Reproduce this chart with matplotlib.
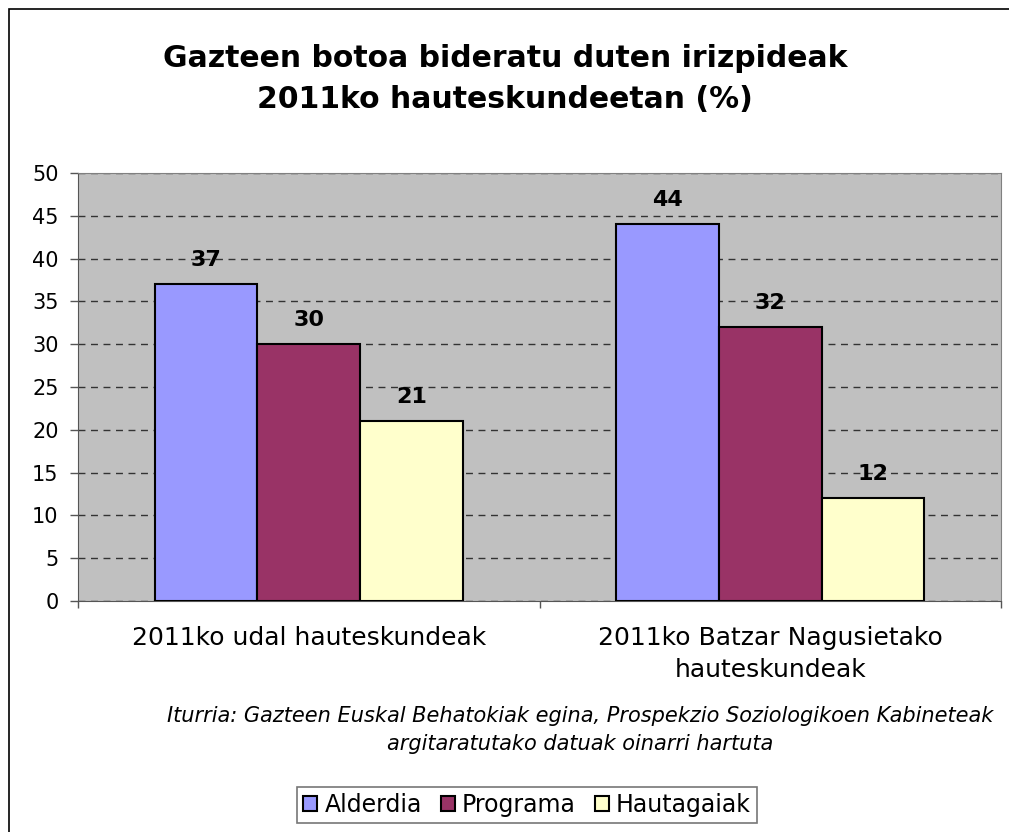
import matplotlib
matplotlib.use("Agg")
import matplotlib.pyplot as plt
import numpy as np

categories = ["2011ko udal hauteskundeak", "2011ko Batzar Nagusietako\nhauteskundeak"]
series = ["Alderdia", "Programa", "Hautagaiak"]
alderdia = [37, 44]
programa = [30, 32]
hautagaiak = [21, 12]
values = [alderdia, programa, hautagaiak]
colors = ["#9999FF", "#993366", "#FFFFCC"]

W, H = 1009, 832
fig = plt.figure(figsize=(W / 100, H / 100), dpi=100)

# outer chart border
fig.add_artist(plt.Rectangle((9 / W, -0.01), 1.05, 1 - 9 / H + 0.01,
                             transform=fig.transFigure, fill=False,
                             edgecolor="#000000", lw=1.2))

ax = fig.add_axes([78 / W, 1 - 601 / H, (1001 - 78) / W, (601 - 173) / H])
ax.set_facecolor("#C0C0C0")

x = np.arange(len(categories))
bw = 1 / 4.5
for i, (s, v, c) in enumerate(zip(series, values, colors)):
    pos = x + (i - 1) * bw
    ax.bar(pos, v, width=bw, color=c, edgecolor="black", lw=1.5, label=s, zorder=3)
    for p, val in zip(pos, v):
        ax.text(p, val + 1.7, str(val), ha="center", va="bottom",
                fontsize=16, fontweight="bold", zorder=4)

ax.set_xlim(-0.5, 1.5)
ax.set_ylim(0, 50)
ax.set_yticks(range(0, 51, 5))
ax.yaxis.grid(True, linestyle=(0, (5, 4)), color="#333333", lw=1.0, zorder=1)
ax.set_axisbelow(True)
ax.set_xticks([-0.5, 0.5, 1.5])
ax.set_xticklabels([])
ax.tick_params(axis="y", labelsize=15, length=6, width=1, color="#555555", pad=8)
ax.tick_params(axis="x", length=5, width=1, color="#555555", direction="out")
for sp in ["top", "right"]:
    ax.spines[sp].set_color("#808080")
for sp in ["left", "bottom"]:
    ax.spines[sp].set_color("#555555")

for xi, lab in zip(x, categories):
    ax.text(xi, -2.9, lab, ha="center", va="top", fontsize=18,
            linespacing=1.45, transform=ax.transData)

fig.text(505 / W, 1 - 79 / H, "Gazteen botoa bideratu duten irizpideak\n2011ko hauteskundeetan (%)",
         ha="center", va="center", fontsize=21.5, fontweight="bold", linespacing=1.55)

fig.text(580 / W, 1 - 730 / H,
         "Iturria: Gazteen Euskal Behatokiak egina, Prospekzio Soziologikoen Kabineteak\n"
         "argitaratutako datuak oinarri hartuta",
         ha="center", va="center", fontsize=15, style="italic", linespacing=1.55)

leg = fig.legend(loc="center", bbox_to_anchor=(527 / W, 1 - 805 / H), ncol=3,
                 fontsize=17, frameon=True, fancybox=False, edgecolor="#555555",
                 handlelength=0.6, handleheight=0.6, handletextpad=0.3,
                 columnspacing=0.8, borderpad=0.25, borderaxespad=0)
leg.get_frame().set_linewidth(1.2)

fig.savefig("out.png", dpi=100)
